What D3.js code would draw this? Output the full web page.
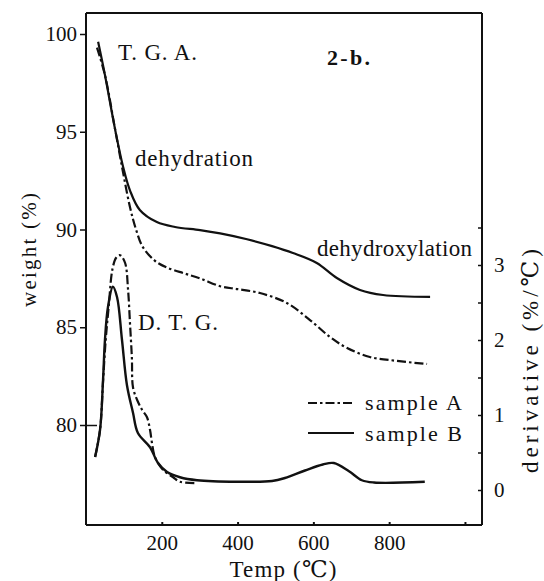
<!DOCTYPE html>
<html><head><meta charset="utf-8">
<script src="https://cdn.jsdelivr.net/npm/d3@7"></script>
<style>
body{margin:0;background:#fff;}
svg text{font-family:"Liberation Serif","Times New Roman","DejaVu Serif",serif !important;fill:#111;}
</style></head>
<body>
<svg id="c" width="544" height="581" font-family="Liberation Serif"></svg>
<script>
// ---- data ----
const tgaA_T = [29, 50, 77, 98, 116, 132, 150, 182, 214, 260, 301, 354, 400, 459, 530, 591, 644, 689, 749, 820, 900];
const tgaA_W = [99.3, 97.9, 95.1, 92.9, 91.15, 90.0, 89.1, 88.4, 88.05, 87.75, 87.5, 87.1, 86.95, 86.75, 86.24, 85.37, 84.5, 83.94, 83.48, 83.28, 83.12];

const tgaB_T = [32, 50, 77, 98, 116, 142, 187, 235, 301, 354, 425, 491, 546, 609, 662, 723, 784, 908];
const tgaB_W = [99.6, 97.9, 95.1, 93.2, 92.0, 91.0, 90.38, 90.13, 89.97, 89.8, 89.5, 89.15, 88.8, 88.29, 87.52, 86.91, 86.65, 86.55];

const dtgA_T = [24, 37, 45, 52, 60, 70, 80, 90, 103, 111, 116, 121, 124, 135, 148, 161, 169, 174, 182, 203, 230, 248, 293];
const dtgA_D = [0.44, 0.8, 1.45, 2.0, 2.45, 2.95, 3.1, 3.13, 3.03, 2.67, 2.23, 1.77, 1.37, 1.2, 1.07, 0.97, 0.8, 0.63, 0.44, 0.27, 0.17, 0.11, 0.09];

const dtgB_T = [24, 37, 45, 50, 58, 71, 82, 95, 108, 124, 137, 169, 190, 214, 248, 293, 398, 491, 525, 578, 625, 654, 694, 728, 760, 894];
const dtgB_D = [0.44, 0.8, 1.47, 2.0, 2.44, 2.71, 2.57, 2.0, 1.4, 1.03, 0.76, 0.57, 0.36, 0.24, 0.17, 0.13, 0.11, 0.12, 0.16, 0.26, 0.34, 0.36, 0.25, 0.13, 0.1, 0.11];

const xTicks = [200, 400, 600, 800, 1000];
const xTickLabels = ["200", "400", "600", "800", ""];
const wTicks = [80, 85, 90, 95, 100];
const dTicks = [0, 0.5, 1, 1.5, 2, 2.5, 3, 3.5];
const dTickLabels = ["0", "", "1", "", "2", "", "3", ""];
const seriesNames = ["sample A", "sample B"];

// ---- layout ----
const svg = d3.select("#c");
const L = 86, R = 482, T = 13, B = 525;
const x = d3.scaleLinear().domain([0, 1045]).range([L, R]);
const yW = d3.scaleLinear().domain([80, 100]).range([425, 34]);
const yD = d3.scaleLinear().domain([0, 3]).range([490, 265]);

const dashA = "9,3,2.5,3";
const FONT = "Liberation Serif";

// frame top
svg.append("line").attr("x1", L).attr("x2", R).attr("y1", T).attr("y2", T)
  .attr("stroke", "#111").attr("stroke-width", 2);

// left axis
const gL = svg.append("g").attr("transform", `translate(${L},0)`)
  .call(d3.axisLeft(yW).tickValues(wTicks).tickSizeOuter(0).tickSize(6).tickPadding(3))
  .attr("font-family", FONT);
gL.select(".domain").attr("d", `M0,${T}V${B}`).attr("stroke", "#111").attr("stroke-width", 2);
gL.selectAll(".tick line").attr("stroke", "#111").attr("stroke-width", 1.5)
  .filter(d => d === 80).attr("x2", 11).attr("x1", -6);
gL.selectAll(".tick text").style("font-size", "21px");

// right axis
const gR = svg.append("g").attr("transform", `translate(${R},0)`)
  .call(d3.axisRight(yD).tickValues(dTicks).tickFormat((d, i) => dTickLabels[i]).tickSizeOuter(0).tickSize(-4).tickPadding(12))
  .attr("font-family", FONT);
gR.select(".domain").attr("d", `M0,${T}V${B}`).attr("stroke", "#111").attr("stroke-width", 2);
gR.selectAll(".tick line").attr("stroke", "#111").attr("stroke-width", 1.5);
gR.selectAll(".tick text").style("font-size", "21px");

// bottom axis
const gB = svg.append("g").attr("transform", `translate(0,${B})`)
  .call(d3.axisBottom(x).tickValues(xTicks).tickFormat((d, i) => xTickLabels[i]).tickSizeOuter(0).tickSize(-3).tickPadding(10))
  .attr("font-family", FONT);
gB.select(".domain").attr("d", `M${L},0H${R}`).attr("stroke", "#111").attr("stroke-width", 2);
gB.selectAll(".tick line").attr("stroke", "#111").attr("stroke-width", 2);
gB.selectAll(".tick text").style("font-size", "21px");

// curves
const curve = d3.curveCatmullRom.alpha(0.5);
const lineW = d3.line().x(d => x(d[0])).y(d => yW(d[1])).curve(curve);
const lineD = d3.line().x(d => x(d[0])).y(d => yD(d[1])).curve(curve);
const zip = (a, b) => a.map((v, i) => [v, b[i]]);

svg.append("path").attr("d", lineW(zip(tgaA_T, tgaA_W))).attr("fill", "none")
  .attr("stroke", "#111").attr("stroke-width", 2.2).attr("stroke-dasharray", dashA);
svg.append("path").attr("d", lineD(zip(dtgA_T, dtgA_D))).attr("fill", "none")
  .attr("stroke", "#111").attr("stroke-width", 2.2).attr("stroke-dasharray", dashA);
svg.append("path").attr("d", lineW(zip(tgaB_T, tgaB_W))).attr("fill", "none")
  .attr("stroke", "#111").attr("stroke-width", 2.2);
svg.append("path").attr("d", lineD(zip(dtgB_T, dtgB_D))).attr("fill", "none")
  .attr("stroke", "#111").attr("stroke-width", 2.4);

// annotations
function txt(s, px, py, size, len, opts = {}) {
  const t = svg.append("text").attr("x", px).attr("y", py)
    .attr("font-family", FONT).style("font-size", size + "px").text(s);
  if (len) t.attr("textLength", len).attr("lengthAdjust", "spacing");
  if (opts.bold) t.style("font-weight", "bold");
  if (opts.rotate) t.attr("transform", `rotate(-90,${px},${py})`).attr("text-anchor", "middle");
  if (opts.anchor) t.attr("text-anchor", opts.anchor);
  return t;
}
txt("T. G. A.", 118, 60, 23, 79);
txt("2-b.", 327, 65, 22, 43, {bold: true});
txt("dehydration", 135, 166, 23, 118);
txt("dehydroxylation", 317, 256, 23, 155);
txt("D. T. G.", 138, 330, 23, 80);

// legend
const legY = [403, 433];
svg.append("line").attr("x1", 308).attr("x2", 354).attr("y1", legY[0]).attr("y2", legY[0])
  .attr("stroke", "#111").attr("stroke-width", 2).attr("stroke-dasharray", dashA);
svg.append("line").attr("x1", 308).attr("x2", 354).attr("y1", legY[1]).attr("y2", legY[1])
  .attr("stroke", "#111").attr("stroke-width", 2.2);
txt(seriesNames[0], 365, 410, 22, 97);
txt(seriesNames[1], 365, 441, 22, 97);

// axis titles
txt("weight (%)", 36, 250, 21, 114, {rotate: true});
txt("derivative (%/℃)", 538, 361, 23, 224, {rotate: true});
txt("Temp (℃)", 283, 577, 23, 107, {anchor: "middle"});
</script>
</body></html>
